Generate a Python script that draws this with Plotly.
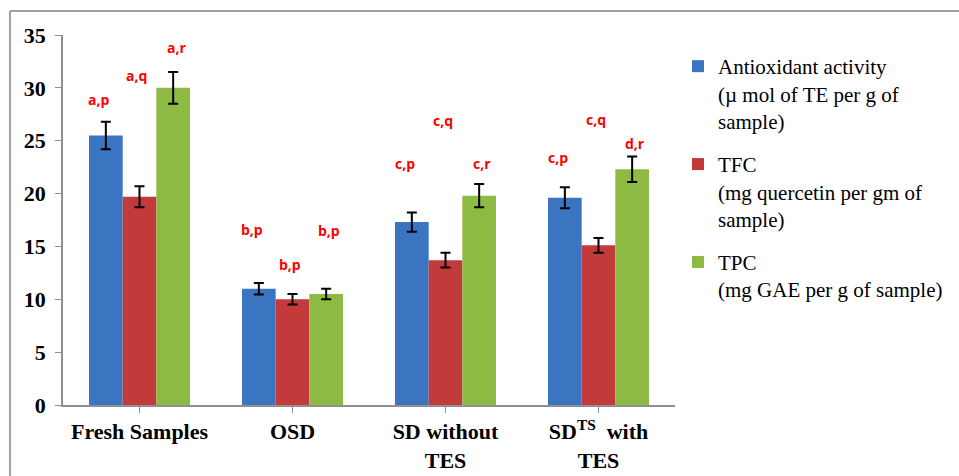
import plotly.graph_objects as go

categories = ["Fresh Samples", "OSD", "SD without<br>TES", "SD<sup>TS</sup>  with<br>TES"]
series_names = [
    "Antioxidant activity<br>(µ mol of TE per g of<br>sample)",
    "TFC<br>(mg quercetin per gm of<br>sample)",
    "TPC<br>(mg GAE per g of sample)",
]
antioxidant = [25.5, 11.0, 17.3, 19.6]
antioxidant_err = [1.3, 0.55, 0.9, 1.0]
tfc = [19.7, 10.0, 13.7, 15.1]
tfc_err = [1.0, 0.5, 0.7, 0.7]
tpc = [30.0, 10.5, 19.8, 22.3]
tpc_err = [1.5, 0.5, 1.1, 1.2]

# significance letters (per series, per category) and their heights in data units
letters = [
    ["a,p", "b,p", "c,p", "c,p"],
    ["a,q", "b,p", "c,q", "c,q"],
    ["a,r", "b,p", "c,r", "d,r"],
]
letter_y = [
    [28.9, 16.6, 22.8, 23.4],
    [31.2, 13.3, 26.9, 27.0],
    [33.8, 16.5, 22.8, 24.7],
]

colors = ["#3B75C2", "#C23B3A", "#8DBA42"]
values = [antioxidant, tfc, tpc]
errors = [antioxidant_err, tfc_err, tpc_err]

SERIF = "Liberation Serif"
BARGAP = 0.34
bw = (1 - BARGAP) / 3
xi = list(range(len(categories)))

fig = go.Figure()
for s in range(3):
    fig.add_trace(go.Bar(
        x=xi, y=values[s], name=series_names[s],
        marker=dict(color=colors[s], line=dict(width=0)),
        error_y=dict(type="data", array=errors[s], color="black", thickness=2, width=5),
        legendgroup=f"g{s}",
    ))

shifts = [-7, -3, 3]
for s in range(3):
    for i in range(len(categories)):
        fig.add_annotation(
            x=i + (s - 1) * bw, y=letter_y[s][i], text=f"<b>{letters[s][i]}</b>",
            showarrow=False, xshift=shifts[s],
            font=dict(family="Open Sans", size=14, color="#FF0000"),
        )

L, R, T, B = 63, 675, 35, 405
W, H = 959, 476
def px(x):
    return (x - L) / (R - L)
def py(y):
    return (B - y) / (B - T)

fig.add_shape(type="line", xref="paper", yref="paper", x0=px(10), x1=px(W + 5), y0=py(11), y1=py(11),
              line=dict(color="#A0A0A0", width=2))
fig.add_shape(type="line", xref="paper", yref="paper", x0=px(10), x1=px(10), y0=py(11), y1=py(H + 5),
              line=dict(color="#A0A0A0", width=2))

fig.update_layout(
    width=W, height=H,
    margin=dict(l=L, r=W - R, t=T, b=H - B, autoexpand=False),
    barmode="group", bargap=BARGAP, bargroupgap=0,
    plot_bgcolor="white", paper_bgcolor="white",
    font=dict(family=SERIF, color="black"),
    legend=dict(
        x=px(678), y=py(46), xanchor="left", yanchor="top",
        font=dict(family=SERIF, size=21, color="black"),
        valign="top", tracegroupgap=13, bgcolor="rgba(0,0,0,0)",
    ),
    showlegend=True,
)
fig.update_xaxes(
    tickmode="array", tickvals=xi, ticktext=[f"<b>{c}</b>" for c in categories],
    range=[-0.5, len(categories) - 0.5],
    showline=True, linecolor="#909090", linewidth=1.5,
    ticks="outside", ticklen=6, tickcolor="#909090",
    tickfont=dict(size=22, family=SERIF, color="black"),
    automargin=False,
    showgrid=False, zeroline=False,
)
fig.update_yaxes(
    range=[0, 35], dtick=5, tickformat="d",
    showline=True, linecolor="#909090", linewidth=1.5,
    ticks="outside", ticklen=6, tickcolor="#909090",
    tickfont=dict(size=22, family=SERIF, color="black"),
    tickprefix="<b>", ticksuffix="</b>", automargin=False,
    ticklabelstandoff=5,
    showgrid=False, zeroline=False,
)

fig.write_html("out.html")
